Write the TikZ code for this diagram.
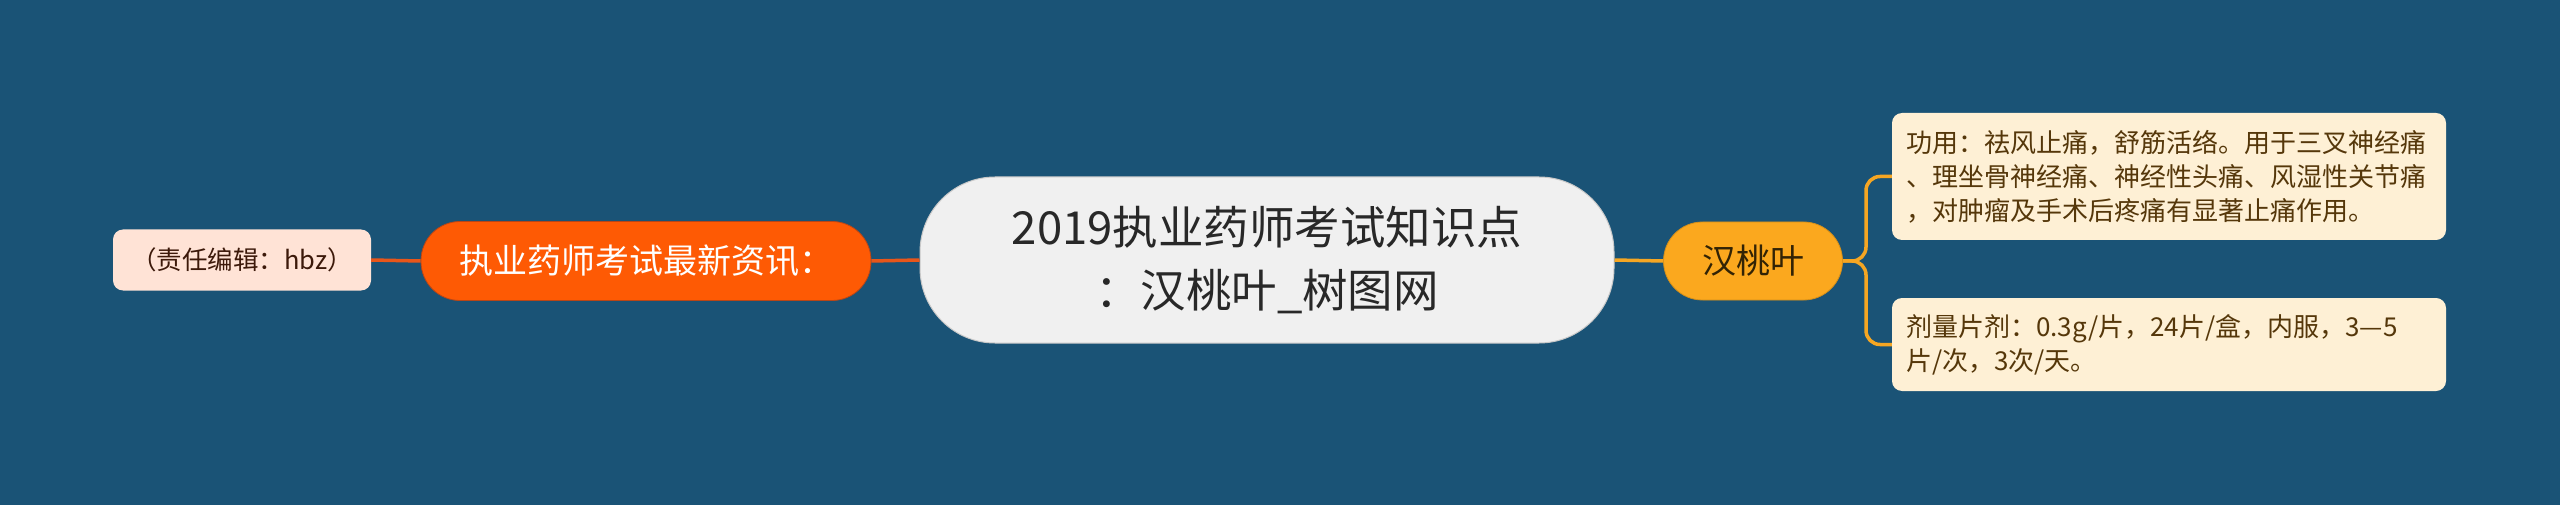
\documentclass[tikz,border=0pt]{standalone}
\usepackage{fontspec}
\newfontfamily\cjk{Noto Sans CJK SC}
\definecolor{bg}{RGB}{26,83,118}
\definecolor{cfill}{RGB}{240,240,240}
\definecolor{cborder}{RGB}{200,200,200}
\definecolor{ctext}{RGB}{40,40,40}
\definecolor{ofill}{RGB}{254,90,4}
\definecolor{oline}{RGB}{232,86,26}
\definecolor{pfill}{RGB}{255,227,214}
\definecolor{ptext}{RGB}{60,25,10}
\definecolor{yfill}{RGB}{251,168,30}
\definecolor{yline}{RGB}{245,166,35}
\definecolor{ytext}{RGB}{50,35,5}
\definecolor{kfill}{RGB}{254,240,213}
\definecolor{ktext}{RGB}{85,55,10}
\tikzset{
  centerbox/.style={fill=cfill, draw=cborder, line width=1pt, rounded corners=75pt,
    minimum width=694pt, minimum height=166pt, align=center, inner sep=0pt,
    font=\cjk\fontsize{45.5}{63}\selectfont, text=ctext},
  orangebox/.style={fill=ofill, draw=oline!80!black, line width=0.8pt, rounded corners=39pt,
    minimum width=450pt, minimum height=79pt, inner sep=0pt,
    font=\cjk\fontsize{34}{40}\selectfont, text=white},
  peachbox/.style={fill=pfill, rounded corners=10pt, minimum width=258pt, minimum height=61pt,
    inner sep=0pt, font=\cjk\fontsize{25.5}{30}\selectfont, text=ptext},
  amberbox/.style={fill=yfill, draw=yfill!85!black, line width=0.8pt, rounded corners=39pt,
    minimum width=179pt, minimum height=78pt, inner sep=0pt,
    font=\cjk\fontsize{34}{40}\selectfont, text=ytext},
  creambox/.style={fill=kfill, rounded corners=10pt, text width=526pt, inner xsep=14pt,
    inner ysep=0pt, align=left, font=\cjk\fontsize{26}{34}\selectfont, text=ktext},
  oconn/.style={draw=oline, line width=3.5pt},
  yconn/.style={draw=yline, line width=3.5pt},
}
\begin{document}
\begin{tikzpicture}[x=1pt,y=-1pt]
\fill[bg] (0,0) rectangle (2560,505);
\useasboundingbox (0,0) rectangle (2560,505);

\node[centerbox] (c) at (1267,260) {2019执业药师考试知识点\\：汉桃叶\_树图网};
\node[orangebox] (o) at (646,261) {执业药师考试最新资讯：};
\node[peachbox] (p) at (242,260) {（责任编辑：hbz）};
\node[amberbox] (h) at (1753,261) {汉桃叶};
\node[creambox, minimum height=127pt] (b1) at (2169,176.5)
  {功用：祛风止痛，舒筋活络。用于三叉神经痛\\、理坐骨神经痛、神经性头痛、风湿性关节痛\\，对肿瘤及手术后疼痛有显著止痛作用。};
\node[creambox, minimum height=93pt] (b2) at (2169,344.5)
  {剂量片剂：0.3g/片，24片/盒，内服，3—5\\片/次，3次/天。};

\coordinate (j) at (1866,261);

\draw[oconn] (o.east) -- (c.west);
\draw[oconn] (p.east) -- (o.west);
\draw[yconn] (c.east) -- (h.west);
\draw[yconn, rounded corners=14pt] (h.east) -- (j) |- (b1.west);
\draw[yconn, rounded corners=14pt] (h.east) -- (j) |- (b2.west);
\end{tikzpicture}
\end{document}
